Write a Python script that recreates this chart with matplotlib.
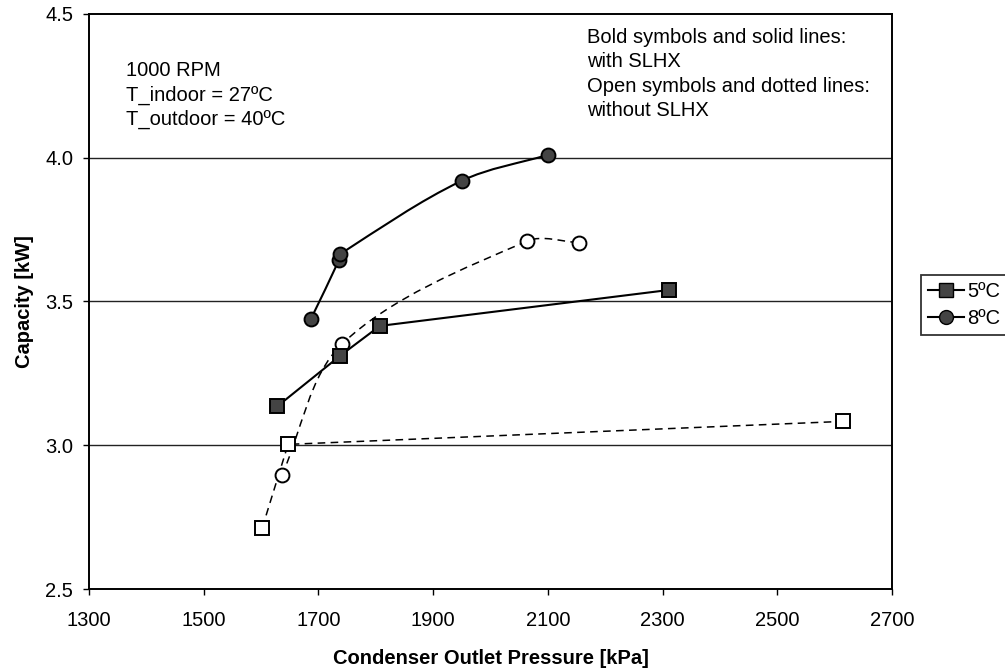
"""
Capacity vs condenser outlet pressure, with / without SLHX (1000 RPM).
"""

import matplotlib.pyplot as plt
import numpy as np
from matplotlib.lines import Line2D
from matplotlib.patches import PathPatch
from matplotlib.path import Path

plt.rcParams["font.family"] = ["Liberation Sans", "DejaVu Sans"]

# 5 degC superheat, with SLHX (bold squares, solid line)
P_5_WITH = [1628, 1737, 1807, 2311]
Q_5_WITH = [3.135, 3.31, 3.415, 3.54]

# 8 degC superheat, with SLHX (bold circles, solid line)
P_8_WITH = [1687, 1736, 1738, 1950, 2100]
Q_8_WITH = [3.44, 3.645, 3.665, 3.92, 4.01]

# 5 degC, without SLHX (open squares, dashed line)
P_5_WO = [1602, 1647, 2615]
Q_5_WO = [2.713, 3.003, 3.083]

# 8 degC, without SLHX (open circles, dashed line)
P_8_WO = [1636, 1741, 2064, 2154]
Q_8_WO = [2.895, 3.352, 3.71, 3.705]

X_TICKS = list(range(1300, 2701, 200))
Y_TICKS = [2.5, 3.0, 3.5, 4.0, 4.5]
LEGEND_LABELS = ["5ºC", "8ºC"]

FILL = "#444444"
MS = 10


def smooth_path(ax, xs, ys):
    """Smoothed line (chordal Catmull-Rom as cubic Beziers), built in pixel space."""
    pts = ax.transData.transform(np.column_stack([xs, ys]))
    n = len(pts)
    d = [np.linalg.norm(pts[i + 1] - pts[i]) for i in range(n - 1)]

    def tangent(i):
        if i == 0:
            return (pts[1] - pts[0]) / d[0]
        if i == n - 1:
            return (pts[-1] - pts[-2]) / d[-1]
        return (pts[i + 1] - pts[i - 1]) / (d[i - 1] + d[i])

    verts, codes = [pts[0]], [Path.MOVETO]
    for i in range(n - 1):
        c1 = pts[i] + tangent(i) * d[i] / 3
        c2 = pts[i + 1] - tangent(i + 1) * d[i] / 3
        verts += [c1, c2, pts[i + 1]]
        codes += [Path.CURVE4] * 3
    verts = ax.transData.inverted().transform(np.array(verts))
    return Path(verts, codes)


def draw_series(ax, xs, ys, marker, filled, smooth):
    ls = "-" if filled else (0, (5, 3.5))
    lw = 1.5 if filled else 1.1
    if smooth:
        ax.add_patch(PathPatch(smooth_path(ax, xs, ys), fill=False, edgecolor="black",
                               linewidth=lw, linestyle=ls, zorder=3))
    else:
        ax.plot(xs, ys, color="black", linewidth=lw, linestyle=ls, zorder=3)
    ax.plot(xs, ys, linestyle="none", marker=marker, markersize=MS,
            markerfacecolor=FILL if filled else "white",
            markeredgecolor="black", markeredgewidth=1.4, zorder=4)


fig = plt.figure(figsize=(10.05, 6.71), dpi=100)
ax = fig.add_axes([0.0886, 0.1222, 0.799, 0.857])
ax.set_xlim(1300, 2700)
ax.set_ylim(2.5, 4.5)

for y in [3.0, 3.5, 4.0]:
    ax.axhline(y, color="#222222", linewidth=1.0, zorder=1)

draw_series(ax, P_5_WO, Q_5_WO, "s", False, False)
draw_series(ax, P_8_WO, Q_8_WO, "o", False, True)
draw_series(ax, P_5_WITH, Q_5_WITH, "s", True, False)
draw_series(ax, P_8_WITH, Q_8_WITH, "o", True, True)

ax.set_xticks(X_TICKS)
ax.set_xticklabels([str(v) for v in X_TICKS])
ax.set_yticks(Y_TICKS)
ax.set_yticklabels([f"{v:.1f}" for v in Y_TICKS])
ax.tick_params(direction="out", length=4.5, width=1, labelsize=14.5, colors="black")
ax.tick_params(axis="x", pad=11)
ax.tick_params(axis="y", pad=7)
for s in ax.spines.values():
    s.set_linewidth(1.4)
    s.set_color("black")

ax.set_xlabel("Condenser Outlet Pressure [kPa]", fontsize=14.5, fontweight="bold", labelpad=14)
ax.set_ylabel("Capacity [kW]", fontsize=14.5, fontweight="bold", labelpad=8)

ax.text(0.046, 0.918, "1000 RPM\nT_indoor = 27ºC\nT_outdoor = 40ºC",
        transform=ax.transAxes, fontsize=14.5, va="top", ha="left", linespacing=1.36)
ax.text(0.62, 0.976, "Bold symbols and solid lines:\nwith SLHX\nOpen symbols and dotted lines:\nwithout SLHX",
        transform=ax.transAxes, fontsize=14.5, va="top", ha="left", linespacing=1.36)

handles = [
    Line2D([], [], color="black", linewidth=1.5, marker="s", markersize=MS,
           markerfacecolor=FILL, markeredgecolor="black"),
    Line2D([], [], color="black", linewidth=1.5, marker="o", markersize=MS,
           markerfacecolor=FILL, markeredgecolor="black"),
]
leg = fig.legend(handles, LEGEND_LABELS, loc="upper left", bbox_to_anchor=(0.9164, 0.590),
                 fontsize=14.5, frameon=True, fancybox=False, edgecolor="black",
                 handlelength=1.8, handletextpad=0.15, borderpad=0.35, labelspacing=0.4,
                 borderaxespad=0)
leg.get_frame().set_linewidth(1.3)

fig.savefig("out.png", dpi=100)
